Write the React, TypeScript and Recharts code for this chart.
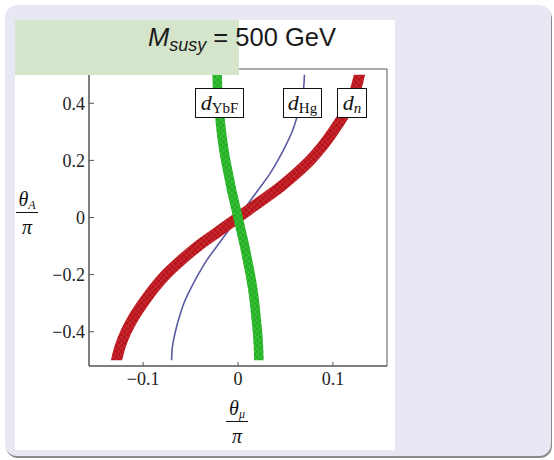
import React from 'react';
import { LineChart, Line, XAxis, YAxis, ReferenceArea } from 'recharts';

// theta_A / pi, shared by every curve
const thetaA = [-0.5, -0.45, -0.4, -0.35, -0.3, -0.25, -0.2, -0.15, -0.1, -0.05, 0, 0.05, 0.1, 0.15, 0.2, 0.25, 0.3, 0.35, 0.4, 0.45, 0.5];

// theta_mu / pi
const dnMu = [-0.128, -0.124, -0.118, -0.11, -0.1, -0.089, -0.076, -0.06, -0.042, -0.021, 0, 0.021, 0.042, 0.06, 0.076, 0.089, 0.1, 0.11, 0.118, 0.124, 0.128];
const dHgMu = [-0.07, -0.069, -0.066, -0.062, -0.057, -0.05, -0.042, -0.033, -0.022, -0.011, 0, 0.011, 0.022, 0.033, 0.042, 0.05, 0.057, 0.062, 0.066, 0.069, 0.07];
const dYbFMu = [0.022, 0.0215, 0.0205, 0.019, 0.0175, 0.0155, 0.013, 0.01, 0.007, 0.0035, 0, -0.0035, -0.007, -0.01, -0.013, -0.0155, -0.0175, -0.019, -0.0205, -0.0215, -0.022];

const xTicks = [-0.1, 0, 0.1];
const yTicks = [-0.4, -0.2, 0, 0.2, 0.4];
const xDomain: [number, number] = [-0.157, 0.157];
const yDomain: [number, number] = [-0.52, 0.52];

const toPoints = (mu: number[]) => thetaA.map((y, i) => ({ x: mu[i], y }));

const fmt = (v: number) => (v === 0 ? '0' : v < 0 ? '\u2212' + Math.abs(v) : String(v));

const serif = '"Liberation Serif", "DejaVu Serif", serif';
const tickStyle = { fontFamily: serif, fontSize: 18, fill: '#222' };

function Tag({ left, width, sub, subSize = 15, subItalic = false }: { left: number; width: number; sub: string; subSize?: number; subItalic?: boolean }) {
  return (
    <div
      style={{
        position: 'absolute',
        left,
        top: 88,
        width,
        height: 30,
        boxSizing: 'border-box',
        border: '1px solid #111',
        background: '#fff',
        fontFamily: serif,
        color: '#111',
        display: 'flex',
        alignItems: 'center',
        justifyContent: 'center',
        whiteSpace: 'nowrap',
      }}
    >
      <span style={{ fontSize: 22, fontStyle: 'italic' }}>d</span>
      <span style={{ fontSize: subSize, fontStyle: subItalic ? 'italic' : 'normal', position: 'relative', top: 5 }}>{sub}</span>
    </div>
  );
}

function Fraction({ left, top, sym, sub }: { left: number; top: number; sym: string; sub: string }) {
  return (
    <div style={{ position: 'absolute', left, top, width: 22, fontFamily: serif, color: '#111', textAlign: 'center' }}>
      <div style={{ height: 24, lineHeight: '22px', whiteSpace: 'nowrap' }}>
        <span style={{ fontSize: 20, fontStyle: 'italic' }}>{sym}</span>
        <span style={{ fontSize: 12, fontStyle: 'italic', lineHeight: '12px', position: 'relative', top: 3 }}>{sub}</span>
      </div>
      <div style={{ borderTop: '1px solid #111' }} />
      <div style={{ fontSize: 20, fontStyle: 'italic', lineHeight: '20px', paddingTop: 4 }}>&pi;</div>
    </div>
  );
}

export default function App() {
  return (
    <div style={{ position: 'absolute', left: 0, top: 0, width: 554, height: 460, background: '#fff', overflow: 'hidden' }}>
      <div style={{ position: 'absolute', left: 5, top: 5, width: 546, height: 451, borderRadius: 12, background: '#e8e8f4', boxShadow: '1px 2px 0 #8a8a8a' }} />
      <div style={{ position: 'absolute', left: 15, top: 20, width: 380, height: 430, background: '#fff' }} />

      <div style={{ position: 'absolute', left: 0, top: 0 }}>
        <LineChart width={554} height={460} margin={{ top: 69, right: 167, bottom: 64, left: 29 }}>
          <defs>
            <pattern id="redMesh" width="4" height="4" patternUnits="userSpaceOnUse" patternTransform="rotate(45)">
              <rect width="4" height="4" fill="#b8121a" />
              <line x1="0" y1="0" x2="0" y2="4" stroke="#d84a4e" strokeWidth="0.8" />
              <line x1="0" y1="0" x2="4" y2="0" stroke="#d84a4e" strokeWidth="0.8" />
            </pattern>
            <pattern id="greenMesh" width="4" height="4" patternUnits="userSpaceOnUse" patternTransform="rotate(45)">
              <rect width="4" height="4" fill="#20b020" />
              <line x1="0" y1="0" x2="0" y2="4" stroke="#66cf66" strokeWidth="0.8" />
              <line x1="0" y1="0" x2="4" y2="0" stroke="#66cf66" strokeWidth="0.8" />
            </pattern>
            {/* cut the bands flat at theta_A = +-0.5 */}
            <clipPath id="bandClip" clipPathUnits="userSpaceOnUse">
              <rect x="0" y="74.7" width="554" height="285.6" />
            </clipPath>
          </defs>
          <XAxis
            dataKey="x"
            type="number"
            domain={xDomain}
            ticks={xTicks}
            allowDataOverflow
            height={30}
            tickFormatter={fmt}
            tick={tickStyle}
            tickSize={-4}
            tickMargin={10}
            stroke="#555"
          />
          <YAxis
            dataKey="y"
            type="number"
            domain={yDomain}
            ticks={yTicks}
            allowDataOverflow
            width={60}
            tickFormatter={fmt}
            tick={tickStyle}
            tickSize={-5}
            tickMargin={9}
            stroke="#555"
          />
          <ReferenceArea x1={xDomain[0]} x2={xDomain[1]} y1={yDomain[0]} y2={yDomain[1]} fill="none" stroke="#555" strokeWidth={1} fillOpacity={0} />
          <Line data={toPoints(dHgMu)} dataKey="y" type="monotoneY" stroke="#5b5ba3" strokeWidth={1.6} dot={false} isAnimationActive={false} />
          <Line
            data={toPoints(dnMu)}
            dataKey="y"
            type="monotoneY"
            stroke="url(#redMesh)"
            strokeWidth={11}
            strokeLinecap="square"
            style={{ clipPath: 'url(#bandClip)' }}
            dot={false}
            isAnimationActive={false}
          />
          <Line
            data={toPoints(dYbFMu)}
            dataKey="y"
            type="monotoneY"
            stroke="url(#greenMesh)"
            strokeWidth={9.5}
            strokeLinecap="square"
            style={{ clipPath: 'url(#bandClip)' }}
            dot={false}
            isAnimationActive={false}
          />
        </LineChart>
      </div>

      <div style={{ position: 'absolute', left: 15, top: 20, width: 224, height: 55, background: '#d5e5cc' }} />
      <div
        style={{
          position: 'absolute',
          left: 148,
          top: 23,
          fontFamily: '"Liberation Sans", Arial, sans-serif',
          fontSize: 25.5,
          color: '#1a1a1a',
          whiteSpace: 'nowrap',
        }}
      >
        <i>M</i>
        <i style={{ fontSize: 18, position: 'relative', top: 5 }}>susy</i> = 500 GeV
      </div>

      <Tag left={195} width={49} sub="YbF" />
      <Tag left={283} width={39} sub="Hg" />
      <Tag left={337} width={30} sub="n" subSize={15} subItalic />

      <Fraction left={16} top={188} sym="θ" sub="A" />
      <Fraction left={226} top={397} sym="θ" sub="μ" />
    </div>
  );
}
